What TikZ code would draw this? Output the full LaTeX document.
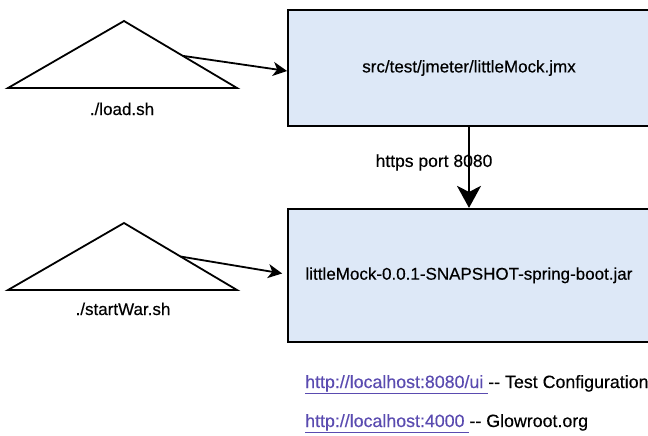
\documentclass[tikz,border=0pt]{standalone}
\usepackage{fontspec}
\setmainfont{Liberation Sans}
\newfontfamily\mockfont{Liberation Sans}[FakeBold=0.4]
\usepackage{xcolor}
\usetikzlibrary{arrows.meta,positioning,calc}
\definecolor{mockBlue}{HTML}{DDE8F7}
\definecolor{linkPurple}{HTML}{5A4BB0}

\begin{document}
\begin{tikzpicture}[
  x=1pt,y=-1pt,
  node distance=81pt,
  every node/.style={font=\mockfont\fontsize{17}{20}\selectfont},
  box/.style={draw,line width=1.8pt,fill=mockBlue,minimum width=362pt,minimum height=116pt},
  tri/.style={draw,line width=1.8pt,line join=miter},
  lbl/.style={inner sep=0pt},
  link/.style={lbl,anchor=base west,font=\mockfont\fontsize{17.8}{20}\selectfont},
  arrow/.style={-{Stealth[length=14pt,width=14pt,inset=4pt]},line width=1.8pt},
  bigarrow/.style={-{Stealth[length=22pt,width=24pt,inset=6pt]},line width=1.8pt}
]
\useasboundingbox (0,0) rectangle (648,436);
\node[box] (jmx) at (469,68) {src/test/jmeter/littleMock.jmx};
\node[box,below=of jmx,minimum height=133pt] (jar) {littleMock-0.0.1-SNAPSHOT-spring-boot.jar};
% the two scripts
\coordinate (loadL) at (8,88);
\coordinate (loadT) at (124,21);
\coordinate (loadR) at (237,88);
\draw[tri] (loadL) -- (loadT) -- (loadR) -- cycle;
\node[lbl,anchor=base] (loadlbl) at (122,115) {./load.sh};
\coordinate (warL) at (8,290);
\coordinate (warT) at (124,223);
\coordinate (warR) at (237,290);
\draw[tri] (warL) -- (warT) -- (warR) -- cycle;
\node[lbl,anchor=base] (warlbl) at (123,315) {./startWar.sh};
\coordinate (loadout) at ($(loadT)!0.52!(loadR)$);
\coordinate (warout) at ($(warT)!0.5!(warR)$);
\draw[arrow] (loadout) -- ([yshift=-3pt]jmx.west);
\draw[arrow,shorten >=5pt] (warout) -- ([yshift=1pt]jar.west);
\draw[bigarrow] (jmx) -- node[xshift=-35pt,yshift=5pt,font=\mockfont\fontsize{17.5}{20}\selectfont] (port) {https port 8080} (jar);
% links
\node[link] (uilink) at (305,388)
  {\textcolor{linkPurple}{\underline{http://localhost:8080/ui\ }}-\kern0pt- Test Configuration};
\node[link] (glowlink) at (305,427)
  {\textcolor{linkPurple}{\underline{http://localhost:4000\ }}-\kern0pt- Glowroot.org};
\end{tikzpicture}
\end{document}
